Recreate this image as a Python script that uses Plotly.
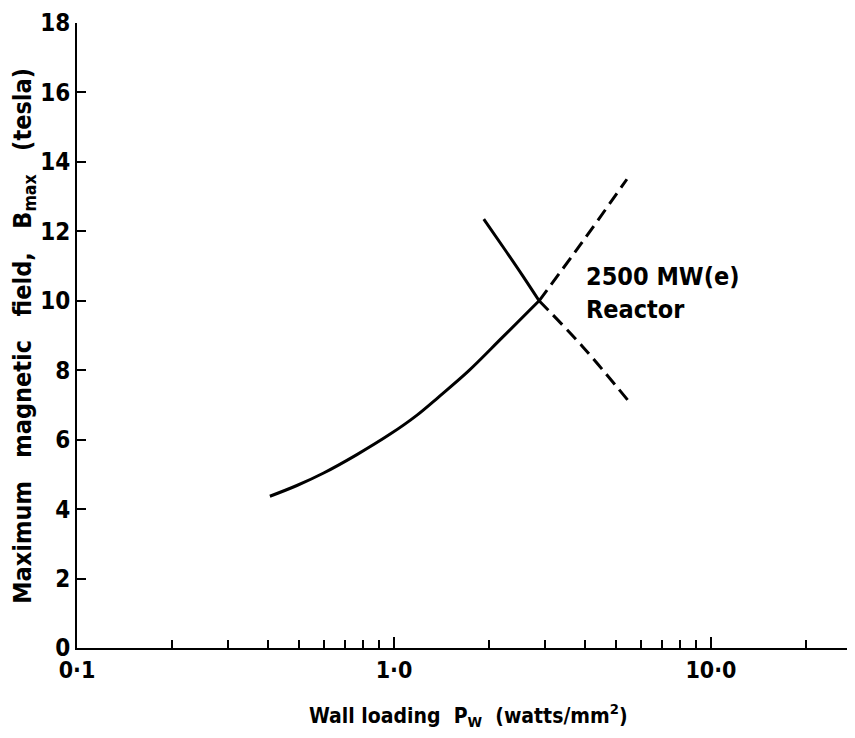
import plotly.graph_objects as go

# Lower solid curve (rising)
rise_x = [0.406, 0.494, 0.600, 0.764, 0.973, 1.18, 1.38, 1.72, 2.19, 2.87]
rise_y = [4.37, 4.68, 5.04, 5.57, 6.16, 6.70, 7.22, 7.98, 8.93, 10.0]
# Rising dashed continuation
rise_dash_x = [2.87, 3.92, 5.43]
rise_dash_y = [10.0, 11.68, 13.50]
# Falling solid curve
fall_x = [1.92, 2.24, 2.53, 2.87]
fall_y = [12.35, 11.47, 10.76, 10.0]
# Falling dashed continuation
fall_dash_x = [2.87, 3.92, 5.50]
fall_dash_y = [10.0, 8.70, 7.11]

x_tickvals = [0.1, 1.0, 10.0]
x_ticktext = ["0·1", "1·0", "10·0"]
x_minor = [0.2, 0.3, 0.4, 0.5, 0.6, 0.7, 0.8, 0.9, 2, 3, 4, 5, 6, 7, 8, 9, 20]
y_tickvals = [0, 2, 4, 6, 8, 10, 12, 14, 16, 18]

FONT = "DejaVu Sans Condensed, DejaVu Sans, sans-serif"

fig = go.Figure()
line_solid = dict(color="black", width=3, shape="spline", smoothing=1)
line_dash = dict(color="black", width=3, dash="13px,7px", shape="spline", smoothing=1)
fig.add_trace(go.Scatter(x=rise_x, y=rise_y, mode="lines", line=line_solid))
fig.add_trace(go.Scatter(x=fall_x, y=fall_y, mode="lines", line=line_solid))
fig.add_trace(go.Scatter(x=rise_dash_x, y=rise_dash_y, mode="lines", line=line_dash))
fig.add_trace(go.Scatter(x=fall_dash_x, y=fall_dash_y, mode="lines", line=line_dash))

# annotation x on log axis is given in log10 units
fig.add_annotation(x=0.598, y=10.22, xref="x", yref="y", xanchor="left", yanchor="middle",
                   text="2500 MW(e)<br>Reactor", showarrow=False, align="left",
                   font=dict(family=FONT, size=25, color="black", weight="bold"))

# Axis titles as paper-positioned annotations
fig.add_annotation(x=0.503, y=-0.107, xref="paper", yref="paper",
                   xanchor="center", yanchor="middle", showarrow=False,
                   text="Wall loading  P<sub>W</sub>  (watts/mm<sup>2</sup>)",
                   font=dict(family=FONT, size=21, color="black", weight="bold"))
fig.add_annotation(x=-0.069, y=0.50, xref="paper", yref="paper",
                   xanchor="center", yanchor="middle", showarrow=False, textangle=-90,
                   text="Maximum&nbsp;&nbsp; magnetic&nbsp;&nbsp; field,&nbsp;&nbsp; B<sub>max</sub>&nbsp;&nbsp; (tesla)",
                   font=dict(family=FONT, size=25, color="black", weight="bold"))

# page body has an 8px margin; size the figure so it fits the 855x738 window
fig.update_layout(
    width=847, height=722,
    margin=dict(l=69, r=0, t=15, b=82),
    paper_bgcolor="white", plot_bgcolor="white",
    showlegend=False,
    font=dict(family=FONT, color="black"),
)
fig.update_xaxes(
    type="log", range=[-1, 1.4545], automargin=False,
    showgrid=False, zeroline=False,
    showline=True, linecolor="black", linewidth=2,
    ticks="inside", ticklen=11, tickwidth=2, tickcolor="black",
    tickmode="array", tickvals=x_tickvals, ticktext=x_ticktext,
    tickfont=dict(size=23, family=FONT, weight="bold"),
    minor=dict(tickmode="array", tickvals=x_minor, ticks="inside", ticklen=8,
               tickwidth=2, tickcolor="black", showgrid=False),
)
fig.update_yaxes(
    range=[0, 18], automargin=False,
    showgrid=False, zeroline=False,
    showline=True, linecolor="black", linewidth=2,
    ticks="inside", ticklen=9, tickwidth=2, tickcolor="black",
    tickmode="array", tickvals=y_tickvals,
    tickfont=dict(size=24, family=FONT, weight="bold"),
)

fig.write_html("out.html")
